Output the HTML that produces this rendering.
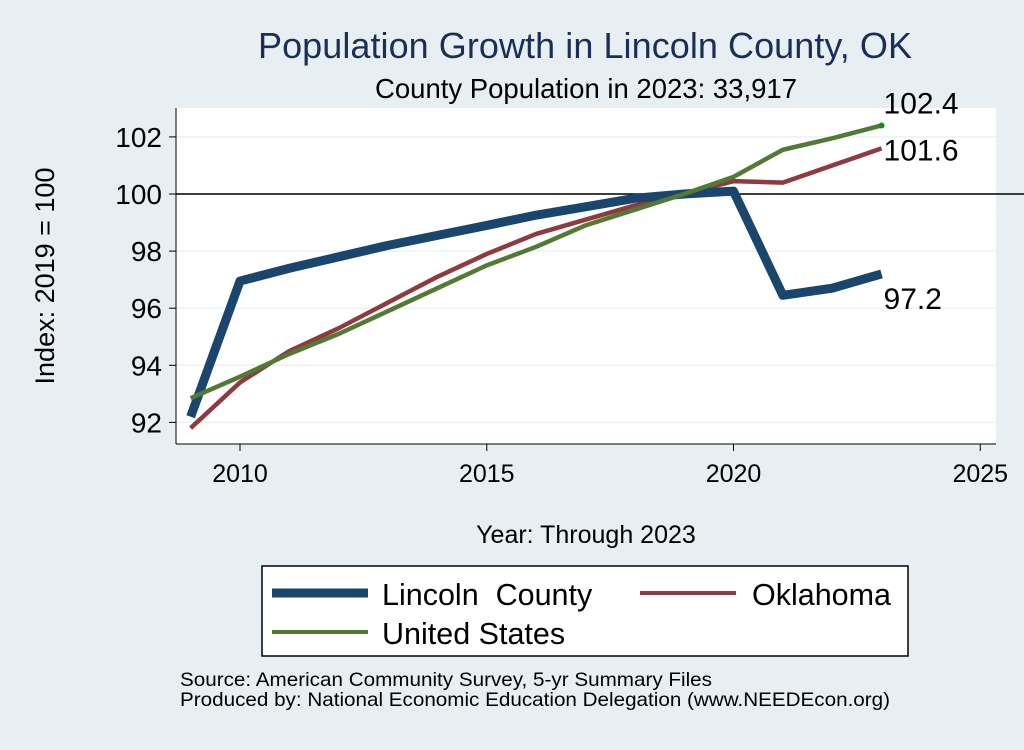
<!DOCTYPE html>
<html><head><meta charset="utf-8"><style>
html,body{margin:0;padding:0;background:#e8eff2;}
svg text{font-family:"Liberation Sans",sans-serif;}
</style></head><body>
<svg width="1024" height="745" xmlns="http://www.w3.org/2000/svg">
<rect width="1024" height="745" fill="#e8eff2"/>
<text x="585" y="58" text-anchor="middle" font-size="36" textLength="654" fill="#1a2e5a">Population Growth in Lincoln County, OK</text>
<text x="586" y="98" text-anchor="middle" font-size="27.5" fill="#000">County Population in 2023: 33,917</text>
<rect x="176" y="108" width="820" height="336" fill="#fff"/>
<g id="grid"></g>
<g id="axes"></g>
<g id="series"></g>
<text transform="translate(54,276) rotate(-90)" text-anchor="middle" font-size="27">Index: 2019 = 100</text>
<text x="586" y="543" text-anchor="middle" font-size="25">Year: Through 2023</text>
<g>
<rect x="262" y="566" width="646" height="90" fill="#fff" stroke="#000" stroke-width="1.5"/>
<line x1="272" y1="593" x2="368" y2="593" stroke="#1a466e" stroke-width="9"/>
<text x="382" y="605" font-size="30.5" style="white-space:pre">Lincoln  County</text>
<line x1="640" y1="593" x2="736" y2="593" stroke="#8e3a3f" stroke-width="4"/>
<text x="752" y="605" font-size="30.5">Oklahoma</text>
<line x1="272" y1="632" x2="368" y2="632" stroke="#537a34" stroke-width="4"/>
<text x="382" y="644" font-size="30.5">United States</text>
</g>
<text x="180" y="686" font-size="19.5" textLength="532" lengthAdjust="spacingAndGlyphs">Source: American Community Survey, 5-yr Summary Files</text>
<text x="180" y="706" font-size="19.5" textLength="710" lengthAdjust="spacingAndGlyphs">Produced by: National Economic Education Delegation (www.NEEDEcon.org)</text>
</svg>
<script>
const years=[2009,2010,2011,2012,2013,2014,2015,2016,2017,2018,2019,2020,2021,2022,2023];
const lincoln=[92.2,96.95,97.4,97.8,98.2,98.55,98.9,99.26,99.55,99.85,100.0,100.1,96.45,96.7,97.2];
const oklahoma=[91.8,93.4,94.5,95.3,96.2,97.1,97.9,98.6,99.1,99.6,100.0,100.45,100.4,101.0,101.6];
const usa=[92.85,93.6,94.4,95.1,95.9,96.7,97.5,98.15,98.9,99.45,100.0,100.6,101.55,101.95,102.4];
const yTicks=[92,94,96,98,100,102];
const xTicks=[2010,2015,2020,2025];
const NS="http://www.w3.org/2000/svg";
const X=v=>240+(v-2010)*49.35;
const Y=v=>194-(v-100)*28.55;
function mk(tag,attrs,parent,txt){const e=document.createElementNS(NS,tag);for(const k in attrs)e.setAttribute(k,attrs[k]);if(txt!==undefined)e.textContent=txt;document.getElementById(parent).appendChild(e);return e;}
yTicks.forEach(t=>{
 const g=mk('line',{x1:176,x2:996,y1:Y(t),y2:Y(t),stroke:'#eaf2f3','stroke-width':1.5},'grid');
 
 
 const tk=mk('line',{x1:169,x2:176,y1:Y(t),y2:Y(t),stroke:'#000','stroke-width':1},'axes');
 
 
 const l=mk('text',{x:162,y:Y(t)+10,'text-anchor':'end','font-size':28},'axes',t);
 
 
});
xTicks.forEach(t=>{
 const tk=mk('line',{x1:X(t),x2:X(t),y1:444,y2:451,stroke:'#000','stroke-width':1},'axes');
 
 
 const l=mk('text',{x:X(t),y:482,'text-anchor':'middle','font-size':25},'axes',t);
 
 
});
const ref=mk('line',{x1:176,x2:1024,y1:Y(100),y2:Y(100),stroke:'#000','stroke-width':1.5},'axes');


const ya=mk('line',{x1:176,x2:176,y1:108,y2:444,stroke:'#000','stroke-width':1},'axes');


const xa=mk('line',{x1:176,x2:996,y1:444,y2:444,stroke:'#000','stroke-width':1},'axes');


function draw(vals,color,w,name){
 const p=mk('polyline',{points:vals.map((v,i)=>X(years[i])+','+Y(v)).join(' '),fill:'none',stroke:color,'stroke-width':w,'stroke-linejoin':'round'},'series');
 
 
}
draw(oklahoma,'#8e3a3f',4.5,'line-oklahoma');
draw(lincoln,'#1a466e',9,'line-lincoln');
draw(usa,'#537a34',4.5,'line-united-states');
const n=years.length-1;
const dot=mk('circle',{cx:X(years[n]),cy:Y(usa[n]),r:3,fill:'#1a8a1a'},'series');


const l1=mk('text',{x:X(years[n])+2,y:Y(usa[n])-12,'font-size':30},'series',usa[n].toFixed(1));


const l2=mk('text',{x:X(years[n])+2,y:Y(oklahoma[n])+12,'font-size':30},'series',oklahoma[n].toFixed(1));


const l3=mk('text',{x:X(years[n])+2,y:Y(lincoln[n])+35,'font-size':30},'series',lincoln[n].toFixed(1));


</script>
</body></html>
